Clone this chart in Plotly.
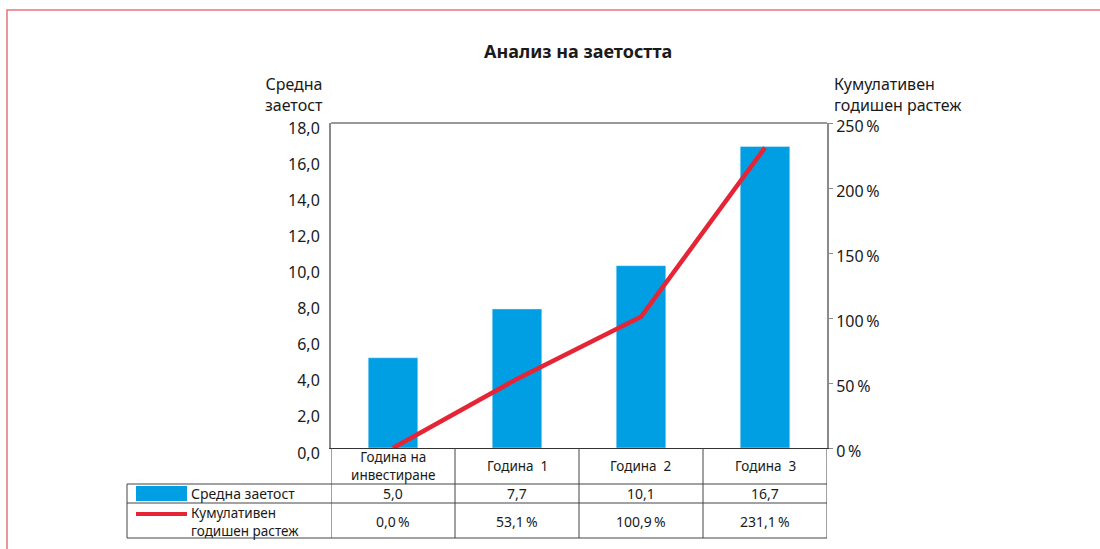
import plotly.graph_objects as go

categories = ["Година на<br>инвестиране", "Година  1", "Година  2", "Година  3"]
occupancy = [5.0, 7.7, 10.1, 16.7]
growth = [0.0, 53.1, 100.9, 231.1]
left_ticks = [0, 2, 4, 6, 8, 10, 12, 14, 16, 18]
right_ticks = [0, 50, 100, 150, 200, 250]
series_names = ["Средна заетост", "Кумулативен<br>годишен растеж"]

W, H = 1100, 549
L, R, T, B = 331, 827, 123, 448
PW, PH = R - L, B - T

def px(x):
    return (x - L) / PW

def py(y):
    return (B - y) / PH

BLUE = "#009FE3"
RED = "#E52535"
FONT = "Noto Sans"
TXT = "#1a1a1a"

fig = go.Figure()
fig.add_trace(go.Bar(x=categories, y=occupancy, marker_color=BLUE, width=0.4,
                     name=series_names[0], yaxis="y"))
fig.add_trace(go.Scatter(x=categories, y=growth, mode="lines",
                         line=dict(color=RED, width=4.5), name=series_names[1],
                         yaxis="y2"))

shapes = []
ann = []

# red page border
shapes.append(dict(type="path", xref="paper", yref="paper",
                   path=f"M {px(7)} {py(549)} L {px(7)} {py(10)} L {px(1100)} {py(10)}",
                   line=dict(color="#E8737D", width=1.5)))
# top border of plot
shapes.append(dict(type="line", xref="paper", yref="paper", x0=0, x1=1, y0=1, y1=1,
                   line=dict(color="#333333", width=1)))

# table
LINE = dict(color="#444444", width=1)
n = len(categories)
row_y = [484, 503, 538]
for yy in row_y:
    shapes.append(dict(type="line", xref="paper", yref="paper", x0=px(127), x1=1,
                       y0=py(yy), y1=py(yy), line=LINE))
shapes.append(dict(type="line", xref="paper", yref="paper", x0=px(127), x1=px(127),
                   y0=py(484), y1=py(538), line=LINE))
for i in range(n + 1):
    shapes.append(dict(type="line", xref="x", yref="paper", x0=i - 0.5, x1=i - 0.5,
                       y0=0, y1=py(538), line=LINE))

# legend swatches
shapes.append(dict(type="rect", xref="paper", yref="paper", x0=px(136), x1=px(187),
                   y0=py(501), y1=py(486), fillcolor=BLUE, line=dict(width=0)))
shapes.append(dict(type="line", xref="paper", yref="paper", x0=px(136), x1=px(187),
                   y0=py(514), y1=py(514), line=dict(color=RED, width=4)))

tf = dict(family=FONT, size=14, color=TXT)
ann.append(dict(xref="paper", yref="paper", x=px(189), y=py(493.5), text=series_names[0],
                showarrow=False, xanchor="left", yanchor="middle", font=tf))
ann.append(dict(xref="paper", yref="paper", x=px(189), y=py(521.5), text=series_names[1],
                showarrow=False, xanchor="left", yanchor="middle", align="left",
                font=dict(family=FONT, size=13.5, color=TXT)))

def fmt(v, d=1):
    return f"{v:.{d}f}".replace(".", ",")

for i, c in enumerate(categories):
    ann.append(dict(xref="x", yref="paper", x=i, y=py(465.5), text=c, showarrow=False,
                    xanchor="center", yanchor="middle",
                    font=dict(family=FONT, size=13.5, color=TXT)))
    ann.append(dict(xref="x", yref="paper", x=i, y=py(493.5), text=fmt(occupancy[i]),
                    showarrow=False, xanchor="center", yanchor="middle", font=tf))
    ann.append(dict(xref="x", yref="paper", x=i, y=py(521), text=fmt(growth[i]) + "\u2009%",
                    showarrow=False, xanchor="center", yanchor="middle", font=tf))

# titles
ann.append(dict(xref="paper", yref="paper", x=px(578), y=py(51), text="<b>Анализ на заетостта</b>",
                showarrow=False, xanchor="center", yanchor="middle",
                font=dict(family=FONT, size=18, color=TXT)))
ann.append(dict(xref="paper", yref="paper", x=px(325), y=py(94), text="Средна<br>заетост",
                showarrow=False, xanchor="right", yanchor="middle", align="right",
                font=dict(family=FONT, size=16, color=TXT)))
ann.append(dict(xref="paper", yref="paper", x=px(832), y=py(95), text="Кумулативен<br>годишен растеж",
                showarrow=False, xanchor="left", yanchor="middle", align="left",
                font=dict(family=FONT, size=16, color=TXT)))

fig.update_layout(
    width=W, height=H,
    margin=dict(l=L, r=W - R, t=T, b=H - B, pad=0),
    paper_bgcolor="white", plot_bgcolor="white",
    separators=", ",
    showlegend=False,
    font=dict(family=FONT, size=16, color=TXT),
    xaxis=dict(type="category", showticklabels=False, ticks="", showgrid=False,
               showline=True, linecolor="#333333", linewidth=1, zeroline=False,
               range=[-0.5, n - 0.5], fixedrange=True),
    yaxis=dict(range=[0, 18], tickvals=left_ticks,
               ticktext=[fmt(v) for v in left_ticks], showgrid=False,
               zeroline=False, showline=True, linecolor="#8a8a8a", linewidth=2,
               ticks="", ticklabelstandoff=6, ticklabelshift=5,
               tickfont=dict(family=FONT, size=16, color=TXT)),
    yaxis2=dict(range=[0, 250], tickvals=right_ticks,
                ticktext=[f"{v}\u2009%" for v in right_ticks],
                overlaying="y", side="right", showgrid=False, zeroline=False,
                showline=True, linecolor="#8a8a8a", linewidth=2,
                ticks="outside", ticklen=4, tickcolor="#8a8a8a", tickwidth=1,
                ticklabelstandoff=0, ticklabelshift=3,
                tickfont=dict(family=FONT, size=16, color=TXT)),
    shapes=shapes,
    annotations=ann,
)

fig.write_html("out.html")
